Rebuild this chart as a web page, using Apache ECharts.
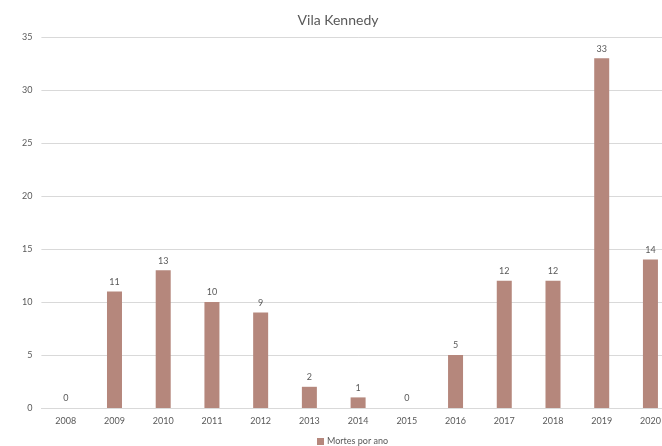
<!DOCTYPE html>
<html>
<head>
<meta charset="utf-8">
<script src="https://cdn.jsdelivr.net/npm/echarts@6/dist/echarts.min.js"></script>
<style>
html,body{margin:0;padding:0;background:#fff;overflow:hidden;}
#chart{width:690px;height:446px;}
</style>
</head>
<body>
<div id="chart"></div>
<script>
// Deaths per year in Vila Kennedy
const years = ['2008','2009','2010','2011','2012','2013','2014','2015','2016','2017','2018','2019','2020'];
const deaths = [0, 11, 13, 10, 9, 2, 1, 0, 5, 12, 12, 33, 14];
const yTicks = { min: 0, max: 35, interval: 5 };

const font = 'Lato, "Open Sans", sans-serif';
const grey = '#595959';
const barColor = '#b5877c';

const chart = echarts.init(document.getElementById('chart'));
chart.setOption({
  animation: false,
  backgroundColor: '#ffffff',
  title: {
    text: 'Vila Kennedy',
    left: 333,
    textAlign: 'center',
    top: 8,
    textStyle: { fontFamily: font, fontSize: 14, fontWeight: 'normal', color: grey }
  },
  legend: {
    data: ['Mortes por ano'],
    left: 312,
    top: 432,
    itemWidth: 7,
    itemHeight: 7,
    itemGap: 4,
    icon: 'rect',
    textStyle: { fontFamily: font, fontSize: 9, color: grey, padding: [0, 0, 0, -2] }
  },
  // plot area runs slightly past the right edge of the visible window
  grid: { left: 41.4, top: 37, width: 633.4, height: 371, containLabel: false },
  xAxis: {
    type: 'category',
    data: years,
    boundaryGap: true,
    axisLine: { lineStyle: { color: '#d9d9d9' } },
    axisTick: { show: false },
    axisLabel: { fontFamily: font, fontSize: 9, color: grey, margin: 9 }
  },
  yAxis: {
    type: 'value',
    min: yTicks.min,
    max: yTicks.max,
    interval: yTicks.interval,
    axisLine: { show: false },
    axisTick: { show: false },
    splitLine: { lineStyle: { color: '#d9d9d9' } },
    axisLabel: { fontFamily: font, fontSize: 9, color: grey, margin: 9 }
  },
  series: [{
    name: 'Mortes por ano',
    type: 'bar',
    data: deaths,
    barWidth: 15,
    itemStyle: { color: barColor },
    label: {
      show: true,
      position: 'top',
      distance: 5,
      fontFamily: font,
      fontSize: 9,
      color: grey
    }
  }]
});
</script>
</body>
</html>
